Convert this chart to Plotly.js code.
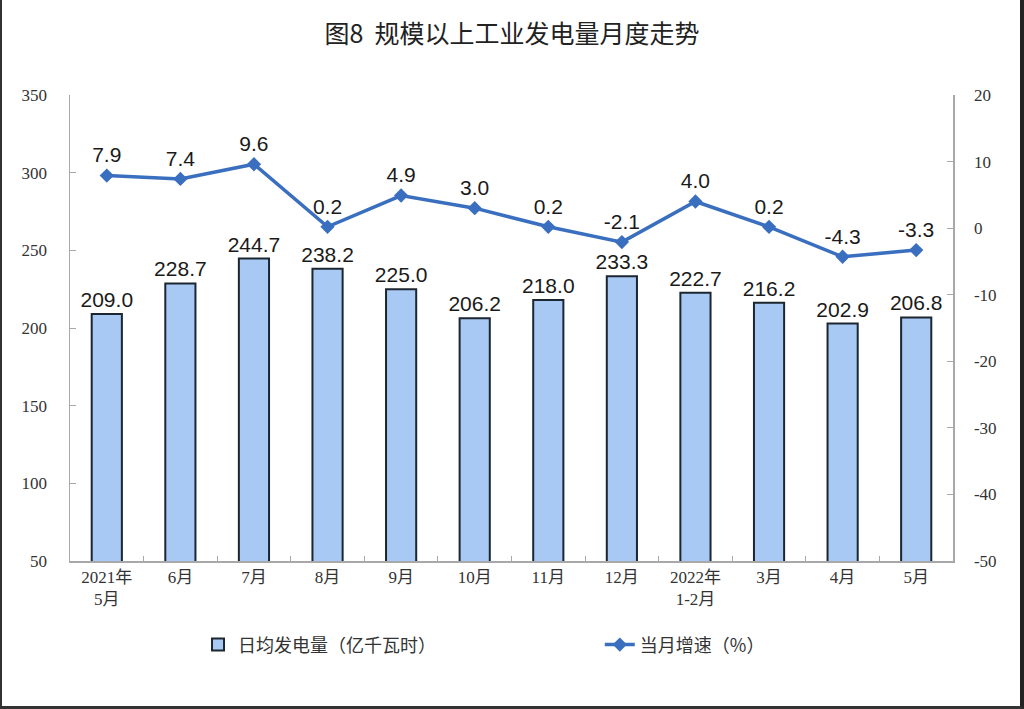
<!DOCTYPE html>
<html>
<head>
<meta charset="utf-8">
<script src="https://cdn.plot.ly/plotly-3.0.1.min.js"></script>
<style>
html,body{margin:0;padding:0;background:#fff;}
#frame{position:absolute;left:0;top:0;width:1024px;height:709px;box-sizing:border-box;border-left:2px solid #333;border-right:4px solid #222;border-bottom:3px solid #333;}
#chart{position:absolute;left:0;top:0;width:1024px;height:709px;}
</style>
</head>
<body>
<div id="chart"></div>
<div id="frame"></div>
<script>
const categories = ["2021年<br>5月","6月","7月","8月","9月","10月","11月","12月","2022年<br>1-2月","3月","4月","5月"];
const dailyOutput = [209.0, 228.7, 244.7, 238.2, 225.0, 206.2, 218.0, 233.3, 222.7, 216.2, 202.9, 206.8];
const growthRate = [7.9, 7.4, 9.6, 0.2, 4.9, 3.0, 0.2, -2.1, 4.0, 0.2, -4.3, -3.3];
const leftTicks = [50, 100, 150, 200, 250, 300, 350];
const rightTicks = [-50, -40, -30, -20, -10, 0, 10, 20];

const labelFont = {family: "Liberation Sans, Arial, sans-serif", size: 21, color: "#1a1a1a"};
const tickFont = {family: "Liberation Serif, Noto Sans CJK SC, serif", size: 17, color: "#333"};

const traces = [
  {
    type: "bar",
    name: "日均发电量（亿千瓦时）",
    x: categories,
    y: dailyOutput,
    text: dailyOutput.map(v => v.toFixed(1)),
    textposition: "outside",
    constraintext: "none",
    textfont: labelFont,
    cliponaxis: false,
    marker: {color: "#a7c9f4", line: {color: "#1c2630", width: 2}},
    yaxis: "y",
    legend: "legend"
  },
  {
    type: "scatter",
    mode: "lines+markers+text",
    name: "当月增速（%）",
    x: categories,
    y: growthRate,
    text: growthRate.map(v => v.toFixed(1)),
    textposition: "top center",
    textfont: labelFont,
    cliponaxis: false,
    line: {color: "#3a6fc0", width: 3.5},
    marker: {symbol: "diamond", size: 11, color: "#3a6fc0"},
    yaxis: "y2",
    legend: "legend2"
  }
];

const legendFont = {family: "Noto Sans CJK SC, sans-serif", size: 18, color: "#333"};

const layout = {
  width: 1024,
  height: 709,
  paper_bgcolor: "#fff",
  plot_bgcolor: "#fff",
  margin: {l: 70, r: 71, t: 95, b: 148},
  showlegend: true,
  bargap: 0.59,
  uniformtext: {mode: false},
  title: {
    text: "图8  规模以上工业发电量月度走势",
    x: 0.5, xanchor: "center", y: 0.952, yanchor: "middle",
    font: {family: "Noto Sans CJK SC, sans-serif", size: 25, color: "#222", weight: "normal"}
  },
  xaxis: {
    type: "category",
    range: [-0.5, categories.length - 0.5],
    autorange: false,
    showline: true, linecolor: "#a8a8a8", linewidth: 1.5,
    ticks: "inside", ticklen: 5, tickcolor: "#a8a8a8",
    tickson: "boundaries",
    showgrid: false,
    tickfont: tickFont,
    fixedrange: true
  },
  yaxis: {
    range: [50, 350],
    tickvals: leftTicks,
    showline: true, linecolor: "#a8a8a8", linewidth: 1.5,
    ticks: "inside", ticklen: 6, tickcolor: "#a8a8a8",
    showgrid: false, zeroline: false,
    tickfont: tickFont,
    ticklabelstandoff: 18
  },
  yaxis2: {
    range: [-50, 20],
    tickvals: rightTicks,
    ticktext: rightTicks.map(v => String(v)),
    overlaying: "y", side: "right",
    showline: true, linecolor: "#a8a8a8", linewidth: 1.5,
    ticks: "inside", ticklen: 6, tickcolor: "#a8a8a8",
    showgrid: false, zeroline: false,
    tickfont: tickFont,
    ticklabelstandoff: 16
  },
  legend: {
    orientation: "h",
    x: 0.145, xanchor: "left",
    y: -0.18, yanchor: "middle",
    font: legendFont,
    bgcolor: "rgba(0,0,0,0)"
  },
  legend2: {
    orientation: "h",
    x: 0.6, xanchor: "left",
    y: -0.18, yanchor: "middle",
    font: legendFont,
    bgcolor: "rgba(0,0,0,0)"
  }
};

Plotly.newPlot("chart", traces, layout, {displayModeBar: false, staticPlot: true});
</script>
</body>
</html>
